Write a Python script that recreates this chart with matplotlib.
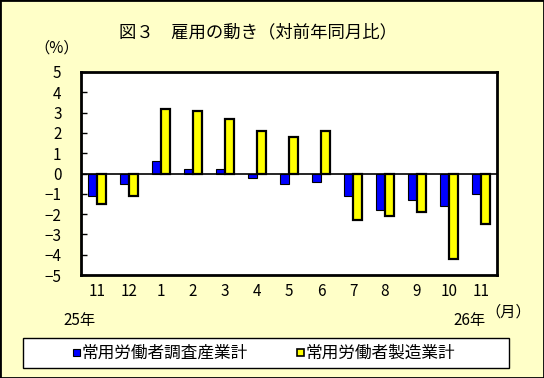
import numpy as np
import matplotlib.pyplot as plt
from matplotlib.patches import Rectangle

plt.rcParams['font.family'] = ['Noto Sans CJK JP', 'DejaVu Sans']

# 月（25年11月～26年11月）
months = ['11', '12', '1', '2', '3', '4', '5', '6', '7', '8', '9', '10', '11']
# 常用労働者調査産業計（対前年同月比, %）
all_ind = [-1.1, -0.5, 0.6, 0.2, 0.2, -0.2, -0.5, -0.4, -1.1, -1.8, -1.3, -1.6, -1.0]
# 常用労働者製造業計
manuf = [-1.5, -1.1, 3.2, 3.1, 2.7, 2.1, 1.8, 2.1, -2.3, -2.1, -1.9, -4.2, -2.5]
yticks = [5, 4, 3, 2, 1, 0, -1, -2, -3, -4, -5]

W, H = 544, 378
fig = plt.figure(figsize=(W / 100, H / 100), dpi=100, facecolor='#FFFFC8')
ax = fig.add_axes([81 / W, 1 - 275 / H, 416 / W, 203 / H])
ax.set_facecolor('white')

x = np.arange(len(months))
bw = 0.27
ax.bar(x - bw / 2, all_ind, bw, color='#0000FF', edgecolor='black', linewidth=0.8, zorder=3)
ax.bar(x + bw / 2, manuf, bw, color='#FFFF00', edgecolor='black', linewidth=1.6, zorder=3)
ax.axhline(0, color='black', linewidth=1.2, zorder=4)

ax.set_xlim(-0.5, len(months) - 0.5)
ax.set_ylim(-5, 5)
ax.set_yticks(yticks)
ax.set_yticklabels([str(v).replace('-', '−') for v in yticks], fontsize=11)
ax.tick_params(axis='y', direction='in', length=4, width=1, pad=14)
ax.set_xticks(x)
ax.set_xticklabels(months, fontsize=11)
ax.tick_params(axis='x', length=0, pad=6)
for s in ax.spines.values():
    s.set_linewidth(2)

# タイトル・注記
fig.text(258 / W, 1 - 32 / H, '図３　雇用の動き（対前年同月比）', ha='center', va='center', fontsize=12.5)
fig.text(57 / W, 1 - 48 / H, '（%）', ha='center', va='center', fontsize=11)
fig.text(80 / W, 1 - 320 / H, '25年', ha='center', va='center', fontsize=11)
fig.text(469 / W, 1 - 320 / H, '26年', ha='center', va='center', fontsize=11)
fig.text(508 / W, 1 - 312 / H, '（月）', ha='center', va='center', fontsize=11)

# 凡例
fig.patches.append(Rectangle((23 / W, 1 - 368 / H), 486 / W, 30 / H, transform=fig.transFigure,
                             facecolor='white', edgecolor='black', linewidth=1))
fig.patches.append(Rectangle((73 / W, 1 - 356 / H), 7 / W, 7 / H, transform=fig.transFigure,
                             facecolor='#0000FF', edgecolor='black', linewidth=0.8))
fig.text(82 / W, 1 - 353 / H, '常用労働者調査産業計', va='center', fontsize=12)
fig.patches.append(Rectangle((297 / W, 1 - 356 / H), 7 / W, 7 / H, transform=fig.transFigure,
                             facecolor='#FFFF00', edgecolor='black', linewidth=1.2))
fig.text(306 / W, 1 - 353 / H, '常用労働者製造業計', va='center', fontsize=12)

# 外枠
fig.patches.append(Rectangle((0, 0), 1, 1, transform=fig.transFigure, fill=False,
                             edgecolor='black', linewidth=2))

plt.savefig('out.png', dpi=100, facecolor=fig.get_facecolor())
